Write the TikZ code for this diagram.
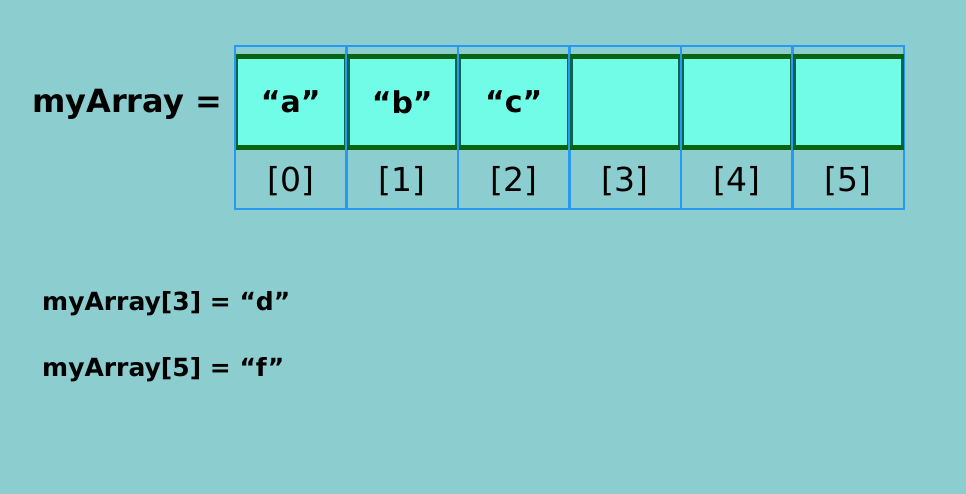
\documentclass[tikz,border=0pt]{standalone}
\usepackage{fontspec}
\setmainfont{DejaVu Sans}
\begin{document}
\begin{tikzpicture}[x=1pt,y=-1pt,
  bluecol/.style={draw=colblue,line width=2.2pt,minimum width=111.5pt,minimum height=163pt,inner sep=0pt},
  cellbox/.style={fill=cellfill,draw=celledge,line width=2.5pt,minimum width=108pt,minimum height=88pt,inner sep=0pt,font=\fontsize{30}{33}\selectfont\bfseries},
  idx/.style={font=\fontsize{33}{36}\selectfont,inner sep=0pt},
  lbl/.style={font=\fontsize{32}{35}\selectfont\bfseries,inner sep=0pt,anchor=west},
  stmt/.style={font=\fontsize{25}{28}\selectfont\bfseries,inner sep=0pt,anchor=west}]
\definecolor{bg}{RGB}{140,206,207}
\definecolor{colblue}{RGB}{40,152,240}
\definecolor{cellfill}{RGB}{112,252,230}
\definecolor{celledge}{RGB}{10,100,80}
\definecolor{topgreen}{RGB}{8,100,16}
\fill[bg] (0,0) rectangle (966,494);
\useasboundingbox (0,0) rectangle (966,494);
\foreach \k/\v in {0/“a”,1/“b”,2/“c”,3/,4/,5/}{
  \node[bluecol] (col\k) at ({235+111.5*\k+55.75},127.5) {};
  \node[cellbox] (c\k) at ({235+111.5*\k+55.75},102) {\v};
  \draw[topgreen,line width=5pt] (c\k.north west) -- (c\k.north east);
  \draw[topgreen,line width=5pt] (c\k.south west) -- (c\k.south east);
  \node[idx] (i\k) at ({235+111.5*\k+55.75},181) {[\k]};
}
\node[lbl] (name) at (32,104) {myArray =};
\node[stmt] (s1) at (42,304) {myArray[3] = “d”};
\node[stmt] (s2) at (42,370) {myArray[5] = “f”};
\end{tikzpicture}
\end{document}
